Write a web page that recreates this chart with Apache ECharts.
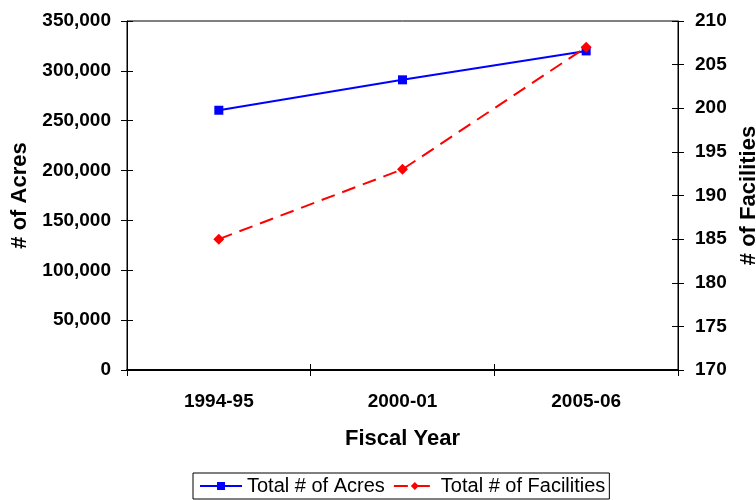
<!DOCTYPE html>
<html>
<head>
<meta charset="utf-8">
<script src="https://cdn.jsdelivr.net/npm/echarts@6/dist/echarts.min.js"></script>
<style>
  html, body { margin: 0; padding: 0; background: #fff; }
  #chart { width: 756px; height: 500px; }
</style>
</head>
<body>
<div id="chart"></div>
<script>
// data
var years = ['1994-95', '2000-01', '2005-06'];
var acres = [260500, 291000, 320000];
var facilities = [185, 193, 207];

var FONT = '"Liberation Sans", Arial, sans-serif';
var tickLabel = { color: '#000', fontFamily: FONT, fontWeight: 'bold', fontSize: 19 };
var titleStyle = { color: '#000', fontFamily: FONT, fontWeight: 'bold', fontSize: 22 };

var chart = echarts.init(document.getElementById('chart'));
chart.setOption({
  animation: false,
  grid: {
    left: 127, right: 78, top: 21, bottom: 130,
    outerBoundsMode: 'none',
    containLabel: false,
    show: true, borderColor: '#000', borderWidth: 1, backgroundColor: '#fff'
  },
  legend: {
    data: ['Total # of Acres', 'Total # of Facilities'],
    left: 193, top: 473,
    borderColor: '#000', borderWidth: 1,
    padding: [3, 4, 3, 6],
    itemGap: 8,
    itemWidth: 42, itemHeight: 10,
    textStyle: { color: '#000', fontFamily: FONT, fontSize: 20 }
  },
  xAxis: [
    {
      type: 'category', data: years, boundaryGap: true,
      name: 'Fiscal Year', nameLocation: 'middle', nameGap: 58,
      nameTextStyle: titleStyle,
      axisLine: { lineStyle: { color: '#000', width: 2 } },
      axisTick: { show: true, length: 6, lineStyle: { color: '#000' } },
      axisLabel: Object.assign({ margin: 22 }, tickLabel),
      splitLine: { show: false }
    },
    {
      type: 'category', data: years, boundaryGap: true, position: 'bottom',
      axisLine: { show: false },
      axisTick: { show: true, inside: true, length: 6, lineStyle: { color: '#000' } },
      axisLabel: { show: false }, splitLine: { show: false }
    }
  ],
  yAxis: [
    {
      type: 'value', min: 0, max: 350000, interval: 50000, position: 'left',
      name: '# of Acres', nameLocation: 'middle', nameGap: 91, nameRotate: 90,
      nameTextStyle: titleStyle,
      axisLine: { show: true, lineStyle: { color: '#000', width: 1 } },
      axisTick: { show: true, length: 6, lineStyle: { color: '#000' } },
      axisLabel: Object.assign({ margin: 16, formatter: function (v) { return v.toLocaleString('en-US'); } }, tickLabel),
      splitLine: { show: false }
    },
    {
      type: 'value', min: 170, max: 210, interval: 5, position: 'right',
      name: '# of Facilities', nameLocation: 'middle', nameGap: 56, nameRotate: 90,
      nameTextStyle: titleStyle,
      axisLine: { show: true, lineStyle: { color: '#000', width: 1 } },
      axisTick: { show: true, length: 6, lineStyle: { color: '#000' } },
      axisLabel: Object.assign({ margin: 17 }, tickLabel),
      splitLine: { show: false }
    },
    {
      type: 'value', min: 0, max: 350000, interval: 50000, position: 'left',
      axisLine: { show: false },
      axisTick: { show: true, inside: true, length: 6, lineStyle: { color: '#000' } },
      axisLabel: { show: false }, splitLine: { show: false }
    },
    {
      type: 'value', min: 170, max: 210, interval: 5, position: 'right',
      axisLine: { show: false },
      axisTick: { show: true, inside: true, length: 6, lineStyle: { color: '#000' } },
      axisLabel: { show: false }, splitLine: { show: false }
    }
  ],
  series: [
    {
      name: 'Total # of Acres', type: 'line', data: acres, yAxisIndex: 0,
      symbol: 'rect', symbolSize: 9,
      lineStyle: { color: '#0000ff', width: 2 },
      itemStyle: { color: '#0000ff' },
      z: 3
    },
    {
      name: 'Total # of Facilities', type: 'line', data: facilities, yAxisIndex: 1,
      symbol: 'diamond', symbolSize: 11,
      lineStyle: { color: '#ff0000', width: 2, type: [14, 8] },
      itemStyle: { color: '#ff0000' },
      z: 4
    }
  ]
});
</script>
</body>
</html>
